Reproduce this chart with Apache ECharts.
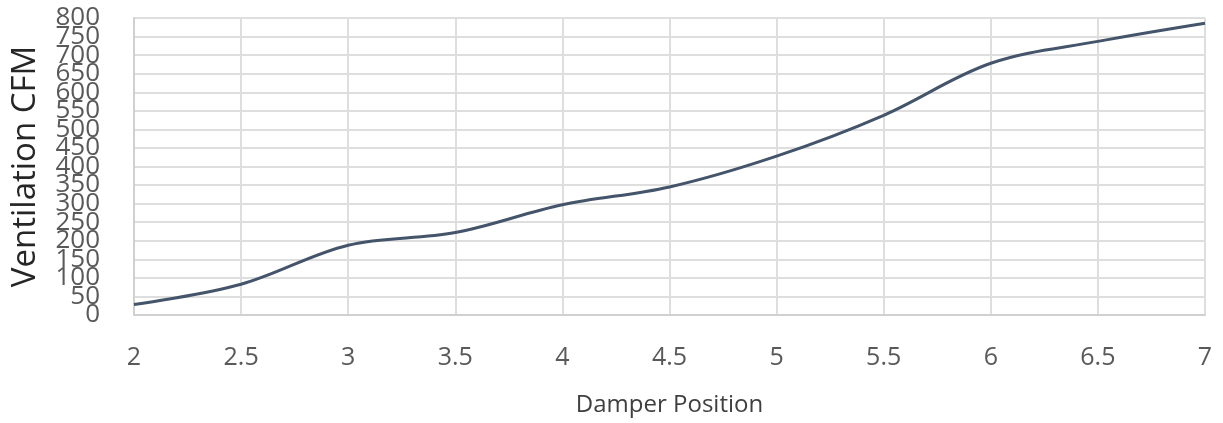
<!DOCTYPE html>
<html>
<head>
<meta charset="utf-8">
<script src="https://cdn.jsdelivr.net/npm/echarts@6/dist/echarts.min.js"></script>
<style>
html,body{margin:0;padding:0;background:#fff;}
#chart{width:1223px;height:423px;}
</style>
</head>
<body>
<div id="chart"></div>
<script>
const damperPosition = [2, 2.5, 3, 3.5, 4, 4.5, 5, 5.5, 6, 6.5, 7];
const ventilationCFM = [28, 83, 188, 222, 297, 345, 428, 538, 678, 737, 786];
const yTicks = [0, 50, 100, 150, 200, 250, 300, 350, 400, 450, 500, 550, 600, 650, 700, 750, 800];

const chart = echarts.init(document.getElementById('chart'), null, {renderer: 'canvas'});
const font = '"Open Sans", "Noto Sans", sans-serif';
const yMin = yTicks[0], yMax = yTicks[yTicks.length - 1];
const yLabelBase = {color: '#595959', fontSize: 26, fontFamily: font, margin: 34, showMinLabel: true, showMaxLabel: true, hideOverlap: false};
chart.setOption({
  animation: false,
  backgroundColor: '#ffffff',
  grid: {left: 134, right: 18, top: 18, bottom: 108, containLabel: false, outerBoundsMode: 'none'},
  xAxis: {
    type: 'value',
    min: 2, max: 7, interval: 0.5,
    name: 'Damper Position',
    nameLocation: 'middle',
    nameGap: 78,
    nameTextStyle: {color: '#404040', fontSize: 24, fontFamily: font},
    axisLine: {show: true, lineStyle: {color: '#d0d0d0', width: 2}},
    axisTick: {show: false},
    axisLabel: {color: '#595959', fontSize: 25, fontFamily: font, margin: 30, showMinLabel: true, showMaxLabel: true, hideOverlap: false},
    splitLine: {show: true, lineStyle: {color: '#dedede', width: 2}}
  },
  yAxis: [{
    type: 'value',
    position: 'left',
    min: yMin, max: yMax, interval: 50,
    name: 'Ventilation CFM',
    nameLocation: 'middle',
    nameGap: 92,
    nameRotate: 90,
    nameTextStyle: {color: '#262626', fontSize: 33, fontFamily: font},
    axisLine: {show: true, lineStyle: {color: '#d0d0d0', width: 2}},
    axisTick: {show: false},
    axisLabel: Object.assign({}, yLabelBase, {formatter: v => (v % 100 === 0 ? String(v) : '')}),
    splitLine: {show: true, lineStyle: {color: '#dedede', width: 2}}
  }, {
    type: 'value',
    position: 'left',
    offset: 0,
    min: yMin, max: yMax, interval: 50,
    axisLine: {show: false},
    axisTick: {show: false},
    axisLabel: Object.assign({}, yLabelBase, {formatter: v => (v % 100 === 50 ? String(v) : '')}),
    splitLine: {show: false}
  }],
  series: [{
    type: 'line',
    yAxisIndex: 0,
    data: damperPosition.map((x, i) => [x, ventilationCFM[i]]),
    smooth: 0.35,
    showSymbol: false,
    lineStyle: {color: '#44546a', width: 3},
    itemStyle: {color: '#44546a'}
  }]
});
</script>
</body>
</html>
